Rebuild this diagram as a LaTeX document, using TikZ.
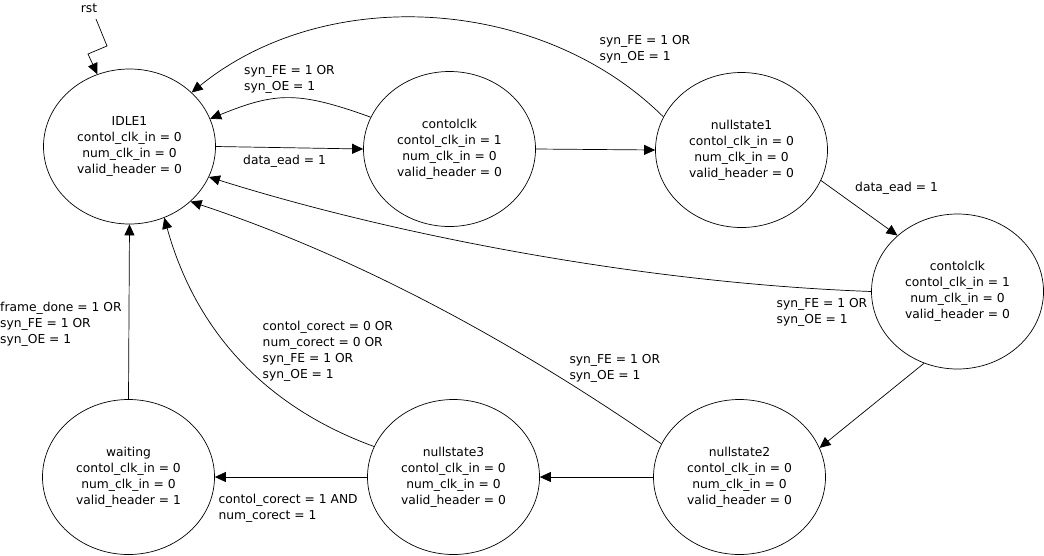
\documentclass[tikz,border=0pt]{standalone}
\usepackage{fontspec}
\setmainfont{DejaVu Sans}
\usetikzlibrary{arrows.meta,shapes.geometric}
\begin{document}
\begin{tikzpicture}[x=1pt,y=-1pt,
  font=\fontsize{12.3}{16}\selectfont,
  state/.style={draw, ellipse, minimum width=172pt, minimum height=155pt, inner sep=0pt, align=center, line width=0.7pt},
  lbl/.style={anchor=west, align=left, inner sep=0pt},
  edge/.style={line width=0.7pt, -{Triangle[length=11pt,width=10pt]}}]
\useasboundingbox (0,0) rectangle (1044,555);
% states
\node[state] (idle) at (129.5,146.5) {IDLE1\\contol\_clk\_in = 0\\num\_clk\_in = 0\\valid\_header = 0};
\node[state] (c1) at (449.5,149) {contolclk\\contol\_clk\_in = 1\\num\_clk\_in = 0\\valid\_header = 0};
\node[state] (n1) at (741.5,150) {nullstate1\\contol\_clk\_in = 0\\num\_clk\_in = 0\\valid\_header = 0};
\node[state] (c2) at (957.5,291.5) {contolclk\\contol\_clk\_in = 1\\num\_clk\_in = 0\\valid\_header = 0};
\node[state] (n2) at (739.5,477) {nullstate2\\contol\_clk\_in = 0\\num\_clk\_in = 0\\valid\_header = 0};
\node[state] (n3) at (453.5,477) {nullstate3\\contol\_clk\_in = 0\\num\_clk\_in = 0\\valid\_header = 0};
\node[state] (w) at (128.5,477) {waiting\\contol\_clk\_in = 0\\num\_clk\_in = 0\\valid\_header = 1};
% reset
\node[inner sep=0pt] (rst) at (89,8) {rst};
\coordinate (r0) at (96,19);
\coordinate (r1) at (107,46);
\coordinate (r2) at (88,54);
\draw[edge] (r0) -- (r1) -- (r2) -- (idle.114);
% straight transitions
\draw[edge] (idle.0) -- (c1.180);
\draw[edge] (c1.0) -- (n1.180);
\draw[edge] (n1.339.6) -- (c2.137.2);
\draw[edge] (c2.245.7) -- (n2.20.9);
\draw[edge] (n2.180) -- (n3.0);
\draw[edge] (n3.180) -- (w.0);
\draw[edge] (w.90) -- (idle.270);
% curved transitions
\draw[edge] (c1.158.8) .. controls (298,91) and (276,92) .. (idle.19.7);
\draw[edge] (n1.157.8) .. controls (542,-3.5) and (326.5,-17) .. (idle.41.1);
\draw[edge] (c2.180) .. controls (640,283) and (392,234.5) .. (idle.339.1);
\draw[edge] (n2.157.6) .. controls (502.3,333.7) and (347.7,253.7) .. (idle.318.3);
\draw[edge] (n3.159.6) .. controls (265,406.7) and (195.7,331) .. (idle.296);
% labels
\node[lbl] (l1) at (244,79) {syn\_FE = 1 OR\\syn\_OE = 1};
\node[lbl] (l2) at (599.5,49) {syn\_FE = 1 OR\\syn\_OE = 1};
\node[lbl] (l3) at (243,161) {data\_ead = 1};
\node[lbl] (l4) at (855,188) {data\_ead = 1};
\node[lbl] (l5) at (776.5,312) {syn\_FE = 1 OR\\syn\_OE = 1};
\node[lbl] (l6) at (569.3,368) {syn\_FE = 1 OR\\syn\_OE = 1};
\node[lbl] (l7) at (262.5,351.5) {contol\_corect = 0 OR\\num\_corect = 0 OR\\syn\_FE = 1 OR\\syn\_OE = 1};
\node[lbl] (l8) at (218.3,508) {contol\_corect = 1 AND\\num\_corect = 1};
\node[lbl] (l9) at (0,324.3) {frame\_done = 1 OR\\syn\_FE = 1 OR\\syn\_OE = 1};
\end{tikzpicture}
\end{document}
